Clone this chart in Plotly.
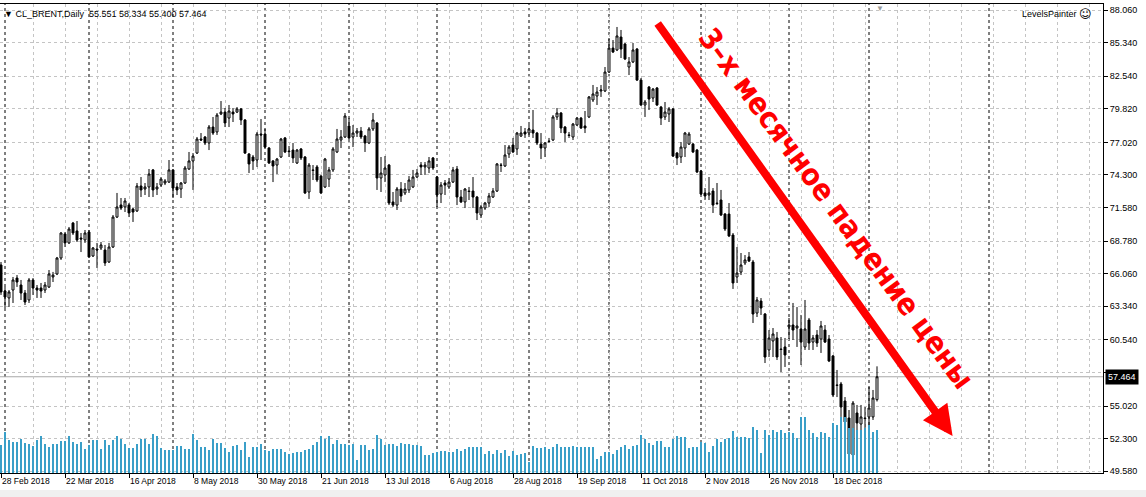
import pandas as pd
import plotly.graph_objects as go

# trading days on the chart: weekdays, without Good Friday, Christmas and New Year
holidays = ["2018-03-30", "2018-12-25", "2019-01-01"]
dates = [d for d in pd.bdate_range("2018-02-28", "2019-01-04")
         if d.strftime("%Y-%m-%d") not in holidays]

date_labels = ["28 Feb 2018", "22 Mar 2018", "16 Apr 2018", "8 May 2018", "30 May 2018",
               "21 Jun 2018", "13 Jul 2018", "6 Aug 2018", "28 Aug 2018", "19 Sep 2018",
               "11 Oct 2018", "2 Nov 2018", "26 Nov 2018", "18 Dec 2018"]

price_ticks = [88.060, 85.340, 82.540, 79.820, 77.020, 74.300, 71.580, 68.780,
               66.060, 63.340, 60.540, 57.820, 55.020, 52.300, 49.580]

opens = [
    66.79, 64.62, 64.04, 64.70, 65.70, 65.12, 64.45, 63.87, 65.54, 64.87,
    64.87, 64.70, 64.95, 65.79, 66.04, 67.37, 69.38, 68.63, 70.29, 69.63,
    69.04, 68.88, 69.54, 67.54, 68.12, 68.21, 68.04, 67.04, 68.29, 70.79,
    71.80, 71.63, 71.80, 71.46, 71.30, 73.38, 73.13, 73.30, 74.72, 73.13,
    73.46, 73.63, 73.71, 74.72, 73.30, 73.13, 73.63, 74.80, 75.47, 76.13,
    77.30, 77.47, 76.97, 78.30, 77.89, 79.39, 79.55, 79.05, 79.55, 79.55,
    79.81, 78.89, 76.05, 75.80, 75.55, 77.72, 77.72, 76.55, 75.47, 75.13,
    75.80, 77.39, 76.30, 76.38, 75.30, 76.47, 75.80, 72.88, 74.72, 74.97,
    74.21, 73.30, 73.96, 74.72, 76.22, 77.22, 77.47, 78.39, 77.47, 77.80,
    77.97, 77.55, 76.97, 78.14, 78.64, 74.05, 74.30, 75.13, 72.05, 71.79,
    73.13, 72.80, 73.05, 73.30, 74.13, 75.13, 74.97, 74.88, 75.72, 74.13,
    72.71, 73.63, 73.30, 73.71, 74.80, 72.46, 72.05, 72.96, 72.96, 72.46,
    70.96, 71.54, 71.96, 72.46, 72.96, 75.13, 75.05, 76.05, 76.80, 76.47,
    77.55, 77.89, 77.80, 78.05, 77.80, 76.88, 76.55, 77.13, 77.22, 79.14,
    79.47, 78.30, 77.64, 77.47, 78.47, 79.05, 78.39, 79.14, 80.56, 80.89,
    81.31, 81.31, 82.89, 84.89, 84.73, 85.81, 85.23, 83.31, 83.73, 84.81,
    82.22, 80.14, 81.64, 80.72, 81.56, 79.97, 79.14, 79.39, 79.81, 76.13,
    75.80, 76.55, 76.88, 76.88, 76.38, 74.63, 72.80, 72.63, 72.96, 71.96,
    72.21, 71.04, 71.04, 69.29, 65.79, 66.20, 66.96, 67.46, 67.04, 62.78,
    63.78, 62.70, 59.70, 60.45, 60.70, 59.78, 59.95, 61.62, 61.78, 61.53,
    61.45, 59.95, 62.20, 60.36, 60.95, 60.61, 61.36, 60.61, 59.20, 56.78,
    56.86, 55.44, 54.02, 50.93, 54.44, 53.52, 54.02, 54.11, 54.11, 55.551,
]
highs = [
    67.04, 64.96, 64.70, 65.79, 65.95, 65.54, 64.70, 65.70, 65.70, 65.12,
    65.29, 65.37, 66.37, 66.21, 67.46, 69.54, 69.54, 69.96, 70.38, 70.46,
    69.46, 69.71, 69.71, 68.29, 68.63, 68.71, 68.46, 68.63, 70.96, 72.80,
    72.38, 72.38, 71.96, 71.55, 73.63, 74.13, 73.63, 74.80, 74.80, 73.63,
    74.13, 73.96, 75.55, 74.80, 73.63, 73.71, 75.05, 76.22, 76.13, 77.47,
    77.80, 77.55, 78.47, 79.14, 79.47, 80.47, 79.89, 80.14, 79.89, 79.97,
    79.89, 78.97, 76.13, 75.97, 77.89, 78.97, 78.14, 76.63, 75.55, 75.72,
    77.39, 77.47, 76.72, 76.97, 76.47, 76.55, 75.88, 75.30, 75.13, 75.13,
    74.30, 75.72, 74.97, 76.63, 78.14, 78.05, 79.47, 79.05, 78.47, 78.22,
    78.30, 77.64, 78.30, 79.47, 78.72, 75.80, 75.88, 75.22, 72.88, 73.30,
    73.71, 73.63, 74.21, 74.72, 74.80, 75.38, 75.38, 75.80, 75.80, 74.21,
    73.71, 73.88, 74.05, 74.97, 75.05, 73.05, 73.21, 73.30, 74.13, 72.55,
    71.79, 72.05, 72.80, 73.21, 75.30, 75.30, 76.80, 76.80, 77.39, 77.89,
    78.39, 78.22, 78.47, 79.72, 77.89, 77.80, 77.05, 77.39, 79.30, 79.89,
    79.55, 78.39, 77.89, 78.64, 79.14, 79.14, 79.64, 80.89, 81.81, 81.64,
    81.81, 83.31, 85.65, 85.56, 86.65, 86.40, 85.31, 84.14, 85.31, 84.89,
    82.39, 80.56, 81.72, 81.56, 81.64, 80.06, 80.39, 79.97, 79.89, 76.22,
    77.05, 77.89, 77.89, 76.97, 76.47, 74.72, 73.21, 74.13, 73.21, 73.63,
    73.05, 71.13, 71.96, 69.46, 68.29, 67.79, 67.62, 67.87, 67.21, 64.12,
    64.03, 62.78, 61.36, 61.53, 61.20, 60.78, 60.70, 62.37, 63.62, 63.28,
    62.62, 63.87, 62.37, 60.95, 61.36, 62.12, 61.78, 60.95, 59.28, 58.03,
    57.03, 55.77, 54.69, 55.44, 55.11, 55.11, 54.94, 56.61, 56.36, 58.334,
]
lows = [
    64.29, 63.20, 63.29, 63.62, 64.96, 63.87, 63.45, 63.62, 64.29, 64.04,
    64.04, 64.45, 64.87, 65.37, 65.95, 67.21, 68.29, 68.54, 69.29, 68.71,
    67.87, 68.63, 67.37, 67.46, 66.54, 68.04, 66.71, 66.96, 68.21, 70.71,
    71.38, 71.21, 70.79, 70.38, 71.21, 72.46, 72.63, 72.46, 72.46, 72.63,
    73.30, 73.46, 73.63, 72.38, 72.63, 72.38, 73.55, 74.72, 73.05, 76.05,
    77.14, 76.80, 76.38, 77.64, 77.64, 79.30, 78.30, 78.30, 78.72, 79.47,
    78.47, 76.05, 74.46, 74.72, 74.97, 75.55, 76.55, 75.22, 73.71, 74.38,
    75.72, 76.13, 75.80, 75.30, 75.22, 75.55, 72.71, 72.30, 73.88, 73.71,
    72.71, 73.21, 73.30, 74.55, 76.13, 76.55, 77.39, 77.22, 76.63, 77.47,
    77.30, 76.22, 76.88, 77.97, 73.05, 72.88, 73.71, 71.79, 71.63, 71.38,
    72.05, 72.63, 72.80, 73.21, 74.05, 74.30, 74.30, 74.46, 74.72, 71.63,
    71.96, 72.63, 73.13, 73.63, 71.79, 71.96, 71.54, 72.21, 71.54, 70.54,
    70.71, 71.38, 71.63, 72.38, 72.88, 74.55, 74.97, 75.72, 76.13, 75.97,
    77.47, 77.39, 77.64, 77.39, 76.80, 75.63, 75.80, 76.97, 77.13, 78.89,
    77.80, 77.05, 77.39, 77.22, 78.39, 78.14, 77.80, 79.05, 80.39, 80.14,
    80.81, 81.22, 82.81, 84.48, 84.64, 84.06, 83.89, 82.64, 83.64, 82.14,
    80.06, 79.14, 79.72, 80.39, 80.06, 78.47, 78.89, 78.72, 75.80, 75.13,
    75.30, 75.80, 76.80, 76.13, 74.46, 72.63, 72.21, 72.21, 71.13, 71.79,
    70.88, 69.63, 69.12, 64.79, 65.29, 65.95, 66.79, 67.04, 61.95, 62.45,
    62.62, 58.61, 59.11, 59.11, 58.86, 57.86, 58.28, 60.61, 60.53, 59.95,
    58.44, 59.70, 59.70, 59.70, 59.95, 59.45, 60.28, 58.69, 55.77, 55.77,
    54.11, 53.61, 50.77, 50.77, 52.77, 52.85, 53.19, 53.19, 53.86, 55.400,
]
closes = [
    64.54, 64.12, 64.54, 65.54, 65.37, 64.45, 63.70, 65.54, 64.87, 64.70,
    64.62, 65.12, 66.04, 65.95, 67.37, 69.46, 68.63, 69.79, 69.46, 68.88,
    68.96, 69.46, 67.46, 68.21, 68.04, 68.46, 66.96, 68.29, 70.79, 71.63,
    71.54, 72.13, 71.13, 71.21, 73.38, 73.05, 73.30, 74.38, 73.05, 73.30,
    73.96, 73.80, 74.72, 73.21, 73.05, 73.63, 74.88, 75.47, 75.88, 77.30,
    77.22, 76.97, 78.30, 77.80, 79.30, 79.55, 78.64, 79.64, 79.39, 79.81,
    78.89, 76.13, 75.22, 75.47, 77.72, 77.64, 76.63, 75.30, 75.05, 75.63,
    77.30, 76.22, 76.25, 75.72, 76.38, 75.72, 72.80, 75.13, 74.68, 73.88,
    72.80, 75.63, 74.72, 76.47, 77.30, 77.47, 79.22, 77.39, 77.80, 77.97,
    77.47, 76.97, 78.14, 78.89, 74.05, 74.46, 74.88, 71.96, 71.79, 73.13,
    72.55, 73.13, 73.88, 74.13, 74.46, 74.97, 75.13, 75.47, 74.88, 72.63,
    73.46, 73.46, 73.71, 74.72, 72.46, 72.05, 73.13, 72.92, 72.46, 71.13,
    71.63, 71.96, 72.55, 72.96, 75.22, 75.10, 75.97, 76.63, 76.22, 77.80,
    77.80, 77.72, 78.14, 77.80, 76.97, 76.55, 76.97, 77.10, 79.14, 79.47,
    78.22, 77.80, 77.60, 78.55, 79.05, 78.22, 78.22, 80.81, 81.06, 81.22,
    81.39, 82.89, 84.89, 84.56, 85.90, 84.81, 83.98, 83.73, 84.73, 82.22,
    80.14, 80.39, 80.64, 81.47, 80.14, 79.05, 79.55, 79.81, 75.88, 75.72,
    76.63, 77.80, 77.72, 76.22, 74.55, 72.71, 72.55, 72.80, 71.79, 71.92,
    70.96, 69.79, 69.21, 65.29, 66.12, 66.79, 67.21, 67.12, 62.70, 63.87,
    63.20, 59.11, 60.70, 61.03, 59.11, 59.74, 59.28, 61.78, 61.36, 61.70,
    60.36, 61.45, 60.28, 60.70, 60.28, 61.70, 60.36, 58.78, 55.94, 56.74,
    54.94, 53.69, 51.02, 55.27, 53.61, 54.11, 53.98, 54.86, 55.69, 57.464,
]
# tick volume, thousands
volumes = [
    28, 41, 33, 31, 31, 34, 30, 29, 27, 33,
    37, 29, 26, 29, 29, 32, 32, 37, 31, 29,
    31, 24, 28, 33, 33, 24, 33, 28, 33, 37,
    34, 29, 25, 25, 29, 34, 34, 29, 39, 37,
    25, 23, 23, 23, 27, 27, 24, 24, 39, 33,
    26, 26, 23, 34, 30, 30, 25, 21, 27, 28,
    23, 31, 16, 26, 26, 29, 23, 22, 24, 24,
    24, 21, 19, 20, 21, 21, 23, 24, 28, 31,
    37, 34, 37, 29, 33, 29, 29, 28, 29, 13,
    28, 28, 23, 24, 38, 34, 28, 29, 29, 27,
    30, 29, 29, 28, 28, 27, 18, 18, 20, 21,
    22, 22, 21, 21, 24, 22, 24, 26, 26, 26,
    26, 19, 22, 19, 23, 20, 23, 17, 22, 18,
    19, 20, 11, 27, 25, 25, 26, 24, 26, 29,
    26, 26, 26, 27, 26, 26, 26, 26, 26, 14,
    17, 21, 21, 19, 23, 26, 28, 24, 27, 28,
    38, 34, 30, 28, 32, 32, 26, 26, 34, 37,
    36, 36, 25, 26, 26, 31, 30, 21, 27, 34,
    31, 34, 35, 42, 36, 36, 36, 35, 46, 43,
    20, 43, 38, 43, 41, 43, 40, 41, 40, 35,
    56, 56, 43, 40, 36, 41, 40, 36, 50, 48,
    56, 56, 45, 45, 43, 43, 45, 48, 41, 43,
]

bars = list(range(len(dates)))
sans = "Liberation Sans, DejaVu Sans, sans-serif"
label_font = dict(family=sans, size=9, color="black")
grid_style = dict(showgrid=True, gridcolor="#c4c4c4", gridwidth=1, griddash="3px,3px")

fig = go.Figure()
fig.add_trace(go.Candlestick(
    x=bars, open=opens, high=highs, low=lows, close=closes,
    increasing=dict(line=dict(color="black", width=1), fillcolor="white"),
    decreasing=dict(line=dict(color="black", width=1), fillcolor="black"),
    whiskerwidth=0, showlegend=False,
))
fig.add_trace(go.Bar(
    x=bars, y=volumes, yaxis="y2", width=0.25,
    marker=dict(color="#3a9fc8", line=dict(width=0)), showlegend=False,
))

# monthly period separators (first trading day of each month)
separators = [i for i in range(1, len(dates)) if dates[i].month != dates[i - 1].month]
shapes = []
for i in separators + [247]:
    shapes.append(dict(type="line", xref="x", yref="paper", x0=i, x1=i, y0=0, y1=1,
                       line=dict(color="black", width=1, dash="3px,3px"), layer="between"))
# bid line
shapes.append(dict(type="line", xref="paper", yref="y", x0=0, x1=1, y0=closes[-1], y1=closes[-1],
                   line=dict(color="#a8a8a8", width=1), layer="between"))
# grey strip under the time scale
shapes.append(dict(type="rect", xref="paper", yref="paper", x0=-0.01, x1=1.05, y0=-0.06, y1=-0.036,
                   fillcolor="#f0f0f0", line=dict(width=0), layer="below"))

header = "▼ CL_BRENT,Daily  {:.3f} {:.3f} {:.3f} {:.3f}".format(opens[-1], highs[-1], lows[-1], closes[-1])
annotations = [
    dict(text=header, xref="paper", yref="paper", x=0.002, y=1, xanchor="left", yanchor="top",
         yshift=-3, showarrow=False, font=label_font),
    dict(text="LevelsPainter", xref="paper", yref="paper", x=0.978, y=1, xanchor="right",
         yanchor="top", yshift=-3, showarrow=False, font=label_font),
    dict(text="☺", xref="paper", yref="paper", x=0.992, y=1, xanchor="right",
         yanchor="top", yshift=-1, showarrow=False,
         font=dict(family="DejaVu Sans, Noto Sans, sans-serif", size=12, color="black")),
    dict(text="{:.3f}".format(closes[-1]), xref="paper", yref="y", x=1, y=closes[-1],
         xanchor="left", yanchor="middle", xshift=2, showarrow=False, bgcolor="black",
         borderpad=2, font=dict(family=sans, size=9, color="white")),
    dict(text="", x=237.9, y=52.52, xref="x", yref="y", ax=-296, ay=-414,
         showarrow=True, arrowhead=2, arrowwidth=8, arrowsize=0.75, arrowcolor="#ff0000", standoff=0),
    dict(text="3–х месячное падение цены", xref="paper", yref="paper", x=0.7588, y=0.565,
         xanchor="center", yanchor="middle", textangle=53.5, showarrow=False,
         font=dict(family="Liberation Sans Narrow, DejaVu Sans Condensed, Roboto Condensed, sans-serif",
                   size=30, color="#ff0000", weight="bold")),
    dict(text="▼", xref="x", yref="paper", x=219.75, y=1, yanchor="top", yshift=4, showarrow=False,
         font=dict(size=8, color="#9a9a9a")),
]

fig.update_layout(
    width=1146, height=497,
    margin=dict(l=0, r=43, t=4, b=24, autoexpand=False),
    paper_bgcolor="white", plot_bgcolor="white",
    bargap=0,
    shapes=shapes, annotations=annotations,
    xaxis=dict(
        range=[-0.25, 275.5], rangeslider=dict(visible=False), automargin=False,
        tickvals=bars[::16], ticktext=date_labels, tickangle=0,
        ticks="outside", ticklen=4, tickcolor="black", ticklabelposition="outside right",
        showline=True, linecolor="black", linewidth=1, mirror=True, zeroline=False,
        tickfont=dict(family=sans, size=8.5, color="black"),
        minor=dict(tick0=0, dtick=8, **grid_style),
        **grid_style,
    ),
    yaxis=dict(
        side="right", range=[49.433, 88.567], automargin=False,
        tickvals=price_ticks, ticktext=["{:.3f}".format(v) for v in price_ticks],
        ticks="outside", ticklen=4, tickcolor="black",
        showline=True, linecolor="black", linewidth=1, mirror=True, zeroline=False,
        tickfont=label_font,
        **grid_style,
    ),
    yaxis2=dict(overlaying="y", range=[0, 469], visible=False),
)

# the page body has a default 8px margin; drop it so the chart fills the window
fig.write_html("out.html", config={"displayModeBar": False},
               post_script="document.body.style.margin = '0';")
